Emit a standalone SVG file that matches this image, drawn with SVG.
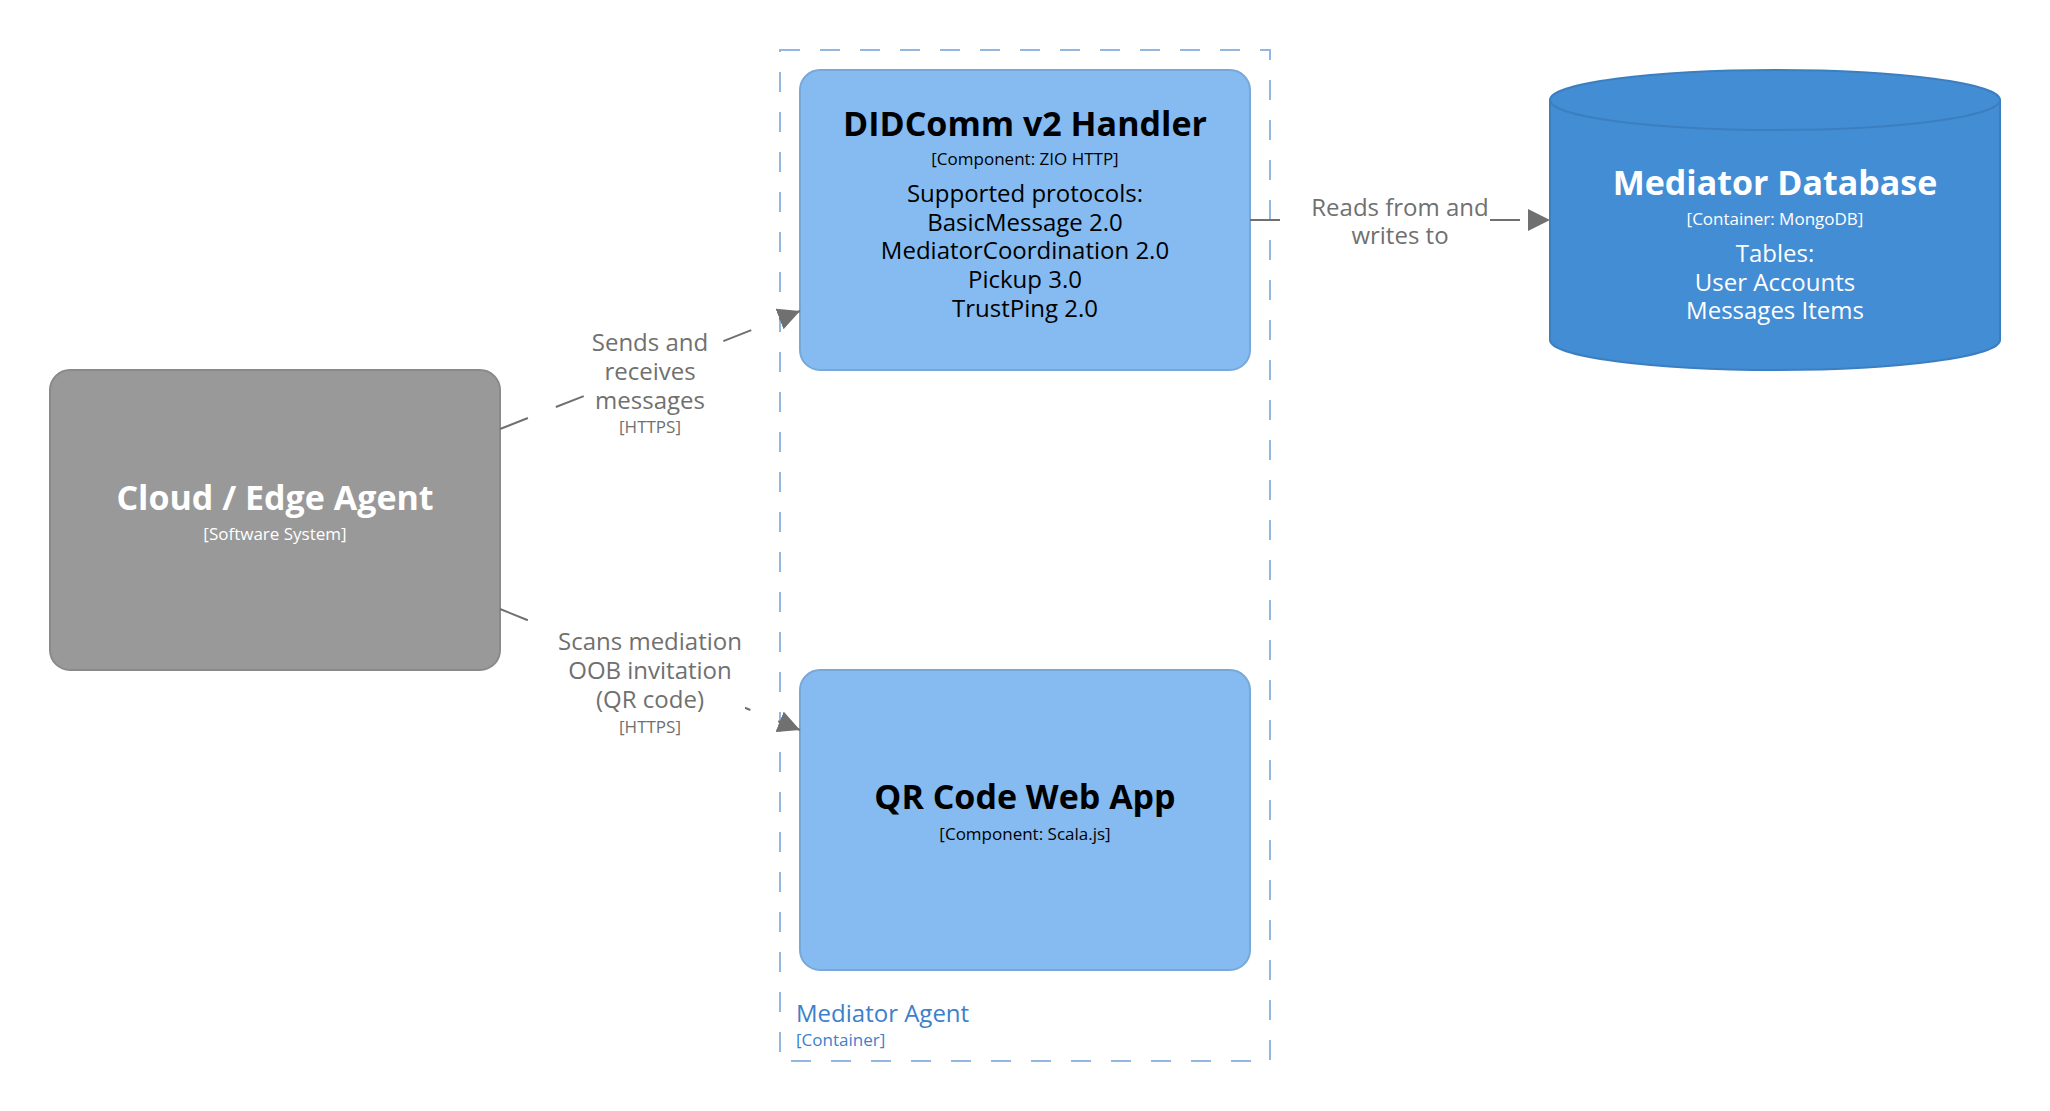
<svg xmlns="http://www.w3.org/2000/svg" width="2050" height="1111" viewBox="0 0 2050 1111">
<style>
  text { font-family: "Open Sans", "Noto Sans", "Liberation Sans", sans-serif; }
  .title { font-size: 34px; font-weight: bold; text-anchor: middle; }
  .meta { font-size: 17px; text-anchor: middle; }
  .desc { font-size: 24px; text-anchor: middle; }
  .dark { fill: #000000; }
  .light { fill: #ffffff; }
  .comp { fill: #85bbf0; stroke: #78a8d8; stroke-width: 2; }
  .conn { stroke: #707070; stroke-width: 2; stroke-dasharray: 30 30; fill: none; marker-end: url(#arrow); }
  .clabel { font-size: 24px; text-anchor: middle; fill: #707070; }
  .ctech { font-size: 17px; text-anchor: middle; fill: #707070; }
  .lbg { fill: #ffffff; }
</style>
<defs>
  <marker id="arrow" markerUnits="userSpaceOnUse" markerWidth="22" markerHeight="22" viewBox="0 0 22 22" refX="22" refY="11" orient="auto">
    <path d="M0,0 L22,11 L0,22 Z" fill="#707070"/>
  </marker>
</defs>
<rect width="2050" height="1111" fill="#ffffff"/>

<g id="mediator-agent">
  <rect x="780" y="50" width="490" height="1011" fill="none" stroke="#92b8e2" stroke-width="2" stroke-dasharray="20 20"/>
  <text x="796" y="1022" style="font-size:24px;fill:#3c80cc">Mediator Agent</text>
  <text x="796" y="1046" style="font-size:17px;fill:#3c80cc">[Container]</text>
</g>

<g id="cloud-edge-agent">
  <rect x="50" y="370" width="450" height="300" rx="20" ry="20" fill="#999999" stroke="#8a8a8a" stroke-width="2"/>
  <text x="275" y="510" class="title light">Cloud / Edge Agent</text>
  <text x="275" y="540" class="meta light">[Software System]</text>
</g>

<g id="didcomm-handler">
  <rect x="800" y="70" width="450" height="300" rx="20" ry="20" class="comp"/>
  <text x="1025" y="136" class="title dark">DIDComm v2 Handler</text>
  <text x="1025" y="165" class="meta dark">[Component: ZIO HTTP]</text>
  <text x="1025" y="202" class="desc dark">Supported protocols:</text>
  <text x="1025" y="230.7" class="desc dark">BasicMessage 2.0</text>
  <text x="1025" y="259.4" class="desc dark">MediatorCoordination 2.0</text>
  <text x="1025" y="288.1" class="desc dark">Pickup 3.0</text>
  <text x="1025" y="316.8" class="desc dark">TrustPing 2.0</text>
</g>

<g id="qr-code-web-app">
  <rect x="800" y="670" width="450" height="300" rx="20" ry="20" class="comp"/>
  <text x="1025" y="809" class="title dark">QR Code Web App</text>
  <text x="1025" y="840" class="meta dark">[Component: Scala.js]</text>
</g>

<g id="mediator-database">
  <path d="M1550,100 A225,30 0 0,1 2000,100 L2000,340 A225,30 0 0,1 1550,340 Z" fill="#438dd5" stroke="#3c7fc0" stroke-width="2"/>
  <path d="M1550,100 A225,30 0 0,0 2000,100" fill="none" stroke="#3c7fc0" stroke-width="2"/>
  <text x="1775" y="195" class="title light">Mediator Database</text>
  <text x="1775" y="225" class="meta light">[Container: MongoDB]</text>
  <text x="1775" y="262" class="desc light">Tables:</text>
  <text x="1775" y="290.5" class="desc light">User Accounts</text>
  <text x="1775" y="319" class="desc light">Messages Items</text>
</g>

<g id="connectors">
  <g id="c-agent-didcomm">
    <line x1="500" y1="429" x2="800" y2="311" class="conn"/>
    <rect x="588" y="328" width="124" height="112" class="lbg"/>
    <text x="650" y="351" class="clabel">Sends and</text>
    <text x="650" y="380" class="clabel">receives</text>
    <text x="650" y="408.7" class="clabel">messages</text>
    <text x="650" y="433" class="ctech">[HTTPS]</text>
  </g>
  <g id="c-agent-qr">
    <line x1="500" y1="609" x2="800" y2="730" class="conn"/>
    <rect x="555" y="630" width="190" height="113" class="lbg"/>
    <text x="650" y="650" class="clabel">Scans mediation</text>
    <text x="650" y="679" class="clabel">OOB invitation</text>
    <text x="650" y="708" class="clabel">(QR code)</text>
    <text x="650" y="733" class="ctech">[HTTPS]</text>
  </g>
  <g id="c-didcomm-db">
    <line x1="1250" y1="220" x2="1550" y2="220" class="conn"/>
    <rect x="1306" y="196" width="184" height="56" class="lbg"/>
    <text x="1400" y="216" class="clabel">Reads from and</text>
    <text x="1400" y="244" class="clabel">writes to</text>
  </g>
</g>
</svg>
